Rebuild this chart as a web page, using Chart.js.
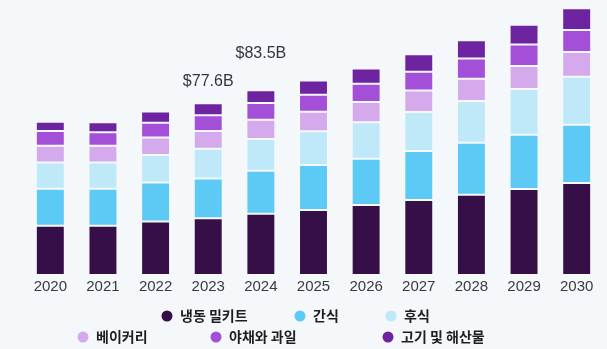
<!DOCTYPE html>
<html>
<head>
<meta charset="utf-8">
<script src="https://cdn.jsdelivr.net/npm/chart.js@4"></script>
<style>
  html, body { margin: 0; padding: 0; background: #f4f8fb; }
  #wrap { width: 607px; height: 349px; position: relative; }
</style>
</head>
<body>
<div id="wrap"><canvas id="marketChart"></canvas></div>
<script>
const years = ['2020', '2021', '2022', '2023', '2024', '2025', '2026', '2027', '2028', '2029', '2030'];

// market size by segment, $B
const mealKits   = [22.3, 22.3, 24.2, 25.6, 27.7, 29.4, 31.6, 33.9, 36.3, 38.9, 41.6];
const snacks     = [16.7, 16.7, 17.6, 18.0, 19.4, 20.3, 21.0, 22.1, 23.5, 24.5, 26.3];
const desserts   = [11.8, 11.8, 12.4, 13.5, 14.4, 15.3, 16.4, 17.7, 18.9, 20.7, 21.7];
const bakery     = [7.6, 7.6, 7.9, 8.0, 8.7, 8.8, 9.2, 9.7, 10.0, 10.4, 11.2];
const vegFruit   = [6.7, 6.1, 6.7, 7.1, 7.5, 7.7, 8.3, 8.5, 9.2, 9.7, 10.0];
const meatSea    = [4.2, 4.5, 5.1, 5.4, 5.8, 6.4, 6.8, 7.9, 8.2, 8.9, 9.8];

const seriesNames = ['냉동 밀키트', '간식', '후식', '베이커리', '야채와 과일', '고기 및 해산물'];
const seriesColors = ['#370f48', '#5ccaf5', '#bfe9f9', '#d5aaec', '#a44fd8', '#6e23a0'];

// years that get a total label above the bar
const totalLabelYears = ['2023', '2024'];
const totalLabelLift = [22, 37];

// legend dot positions (two rows)
const legendSpots = [[167, 316], [300, 316], [391, 316], [83, 337], [216, 337], [388, 337]];

const allSeries = [mealKits, snacks, desserts, bakery, vegFruit, meatSea];

const totalsPlugin = {
  id: 'totals',
  afterDatasetsDraw(chart) {
    const ctx = chart.ctx;
    const x = chart.scales.x, y = chart.scales.y;
    ctx.save();
    ctx.font = '16px "Liberation Sans", Arial, sans-serif';
    ctx.fillStyle = '#36333b';
    ctx.textAlign = 'center';
    ctx.textBaseline = 'middle';
    totalLabelYears.forEach((yr, k) => {
      const i = years.indexOf(yr);
      const total = allSeries.reduce((s, arr) => s + arr[i], 0);
      const px = x.getPixelForValue(i);
      const py = y.getPixelForValue(total) - totalLabelLift[k];
      ctx.fillText('$' + total.toFixed(1) + 'B', px, py);
    });
    ctx.restore();
  }
};

const legendPlugin = {
  id: 'dotLegend',
  afterDraw(chart) {
    const ctx = chart.ctx;
    ctx.save();
    ctx.font = 'bold 14px "Noto Sans CJK KR", sans-serif';
    ctx.textBaseline = 'middle';
    ctx.textAlign = 'left';
    chart.data.datasets.forEach((ds, i) => {
      const [cx, cy] = legendSpots[i];
      ctx.beginPath();
      ctx.arc(cx, cy, 5.5, 0, Math.PI * 2);
      ctx.fillStyle = ds.backgroundColor;
      ctx.fill();
      ctx.fillStyle = '#1f1d22';
      ctx.fillText(ds.label, cx + 13, cy);
    });
    ctx.restore();
  }
};

new Chart(document.getElementById('marketChart').getContext('2d'), {
  type: 'bar',
  data: {
    labels: years,
    datasets: allSeries.map((vals, i) => ({
      label: seriesNames[i],
      data: vals,
      backgroundColor: seriesColors[i],
      borderColor: 'rgba(255,255,255,0.3)',
      borderWidth: 1,
      borderSkipped: false,
      barPercentage: 0.55,
      categoryPercentage: 1
    }))
  },
  options: {
    responsive: true,
    maintainAspectRatio: false,
    animation: false,
    layout: { padding: { top: 4, left: 24, right: 4, bottom: 50 } },
    plugins: {
      legend: { display: false },
      tooltip: { enabled: false }
    },
    scales: {
      x: {
        stacked: true,
        grid: { display: false, drawTicks: false },
        border: { display: false },
        ticks: {
          color: '#3b3840',
          padding: 3,
          font: { family: '"Liberation Sans", Arial, sans-serif', size: 15 }
        }
      },
      y: {
        stacked: true,
        display: false,
        min: 0,
        max: 122.5
      }
    }
  },
  plugins: [totalsPlugin, legendPlugin]
});
</script>
</body>
</html>
